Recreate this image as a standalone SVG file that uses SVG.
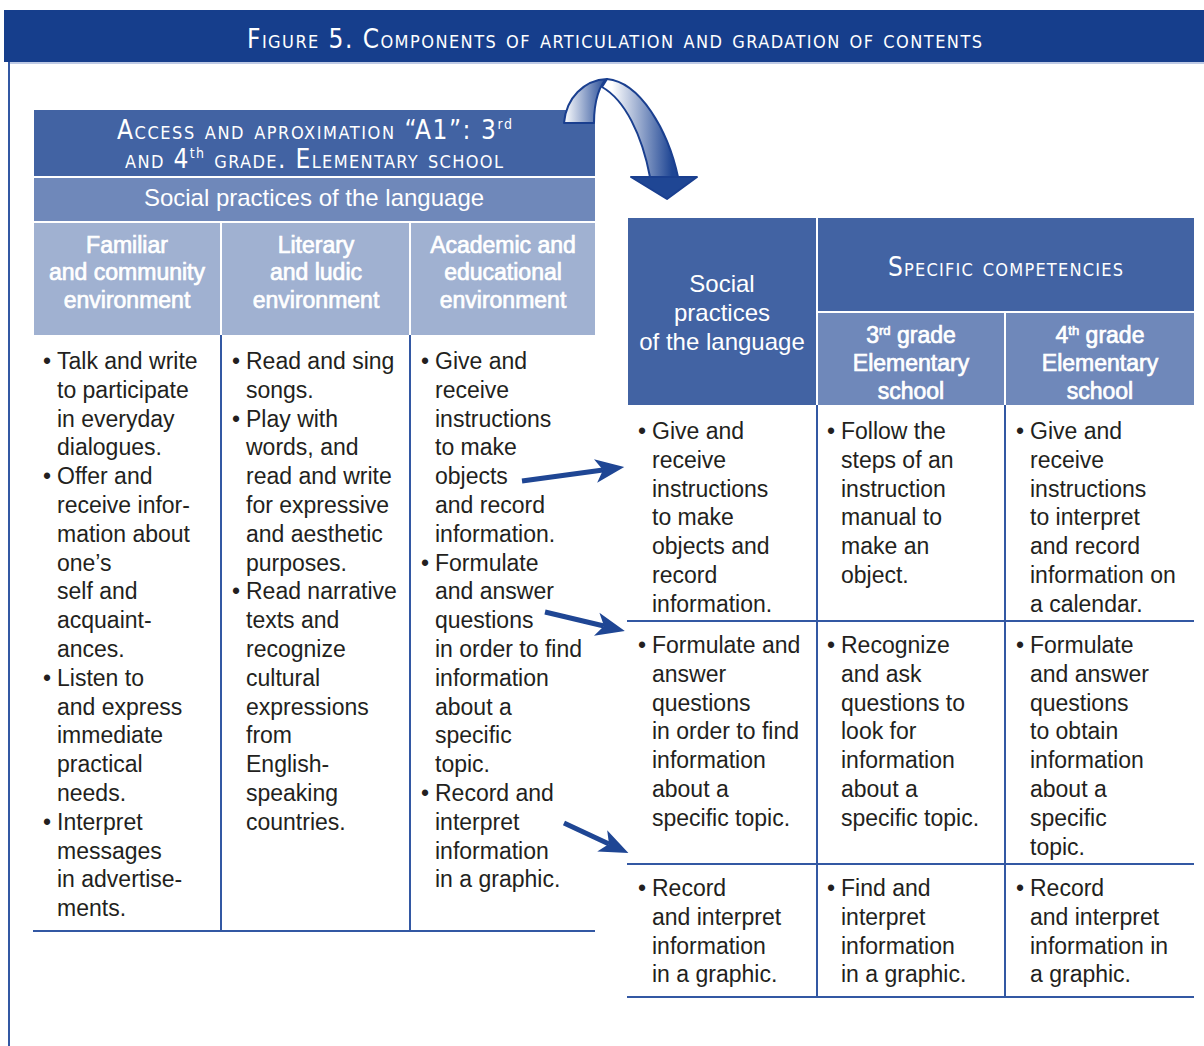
<svg xmlns="http://www.w3.org/2000/svg" width="1204" height="1046" viewBox="0 0 1204 1046">
<style>
.t{font-family:"Liberation Sans",Arial,sans-serif;font-size:23px;fill:#231f20}
.hw{font-family:"Liberation Sans",Arial,sans-serif;fill:#fff}
.hb{font-family:"Liberation Sans",Arial,sans-serif;fill:#fff;stroke:#fff;stroke-width:0.7;font-size:23px}
.sc{font-family:"DejaVu Sans Condensed","DejaVu Sans",sans-serif;font-stretch:condensed;font-variant:small-caps;fill:#fff;font-size:26px}
.sup{font-variant:normal;font-size:14px}
.ln{stroke:#3358a3;stroke-width:2;fill:none}
.wl{stroke:#fff;stroke-width:2}
.dark{fill:#4263a3}
.mid{fill:#6f88ba}
.light{fill:#a0b1d1}
.arr{stroke:#1f4694;stroke-width:5;fill:none;marker-end:url(#ah)}
</style>
<defs>
<marker id="ah" markerUnits="userSpaceOnUse" markerWidth="40" markerHeight="30" viewBox="-2 -14 34 28" refX="7" refY="0" orient="auto">
<path d="M0,-11 L27,0 L0,11 L7,0 Z" fill="#1f4694"/>
</marker>
<linearGradient id="g1" x1="0" y1="0" x2="1" y2="0">
<stop offset="0" stop-color="#ffffff"/><stop offset="1" stop-color="#1f4694"/>
</linearGradient>
<linearGradient id="g2" gradientUnits="userSpaceOnUse" x1="612" y1="0" x2="672" y2="0">
<stop offset="0" stop-color="#ffffff"/><stop offset="1" stop-color="#1f4694"/>
</linearGradient>
</defs>
<rect width="1204" height="1046" fill="#fff"/>

<g id="title">
<rect x="4" y="10" width="1200" height="52" fill="#163e8c"/>
<line x1="9" y1="63" x2="1204" y2="63" stroke="#a9b8dc" stroke-width="1.5"/>
<line x1="9" y1="62" x2="9" y2="1046" stroke="#3358a3" stroke-width="2"/>
<text class="sc" x="247" y="48" textLength="735" lengthAdjust="spacing">Figure 5. Components of articulation and gradation of contents</text>
</g>

<g id="left-header">
<rect class="dark" x="34" y="110" width="561" height="66"/>
<text class="sc" x="117" y="139" textLength="395" lengthAdjust="spacing">Access and aproximation “A1”: 3<tspan class="sup" dy="-10">rd</tspan></text>
<text class="sc" x="125" y="168" textLength="378" lengthAdjust="spacing">and 4<tspan class="sup" dy="-10">th</tspan><tspan dy="10"> grade. Elementary school</tspan></text>
<rect class="mid" x="34" y="178" width="561" height="43"/>
<text class="hw" x="314" y="206" font-size="24" text-anchor="middle">Social practices of the language</text>
</g>

<g id="left-col-headers">
<rect class="light" x="34" y="223" width="561" height="112"/>
<line class="wl" x1="221" y1="223" x2="221" y2="335"/>
<line class="wl" x1="410" y1="223" x2="410" y2="335"/>
<text class="hb" text-anchor="middle"><tspan x="127" y="253">Familiar</tspan><tspan x="127" y="280">and community</tspan><tspan x="127" y="308">environment</tspan></text>
<text class="hb" text-anchor="middle"><tspan x="316" y="253">Literary</tspan><tspan x="316" y="280">and ludic</tspan><tspan x="316" y="308">environment</tspan></text>
<text class="hb" text-anchor="middle"><tspan x="503" y="253">Academic and</tspan><tspan x="503" y="280">educational</tspan><tspan x="503" y="308">environment</tspan></text>
</g>

<g id="left-body">
<line class="ln" x1="221" y1="335" x2="221" y2="931"/>
<line class="ln" x1="410" y1="335" x2="410" y2="931"/>
<line class="ln" x1="33" y1="931" x2="595" y2="931"/>
</g>

<g id="left-col-1">
<text class="t"><tspan x="43" y="369">•</tspan><tspan x="57">Talk and write</tspan><tspan x="57" dy="28.8">to participate</tspan><tspan x="57" dy="28.8">in everyday</tspan><tspan x="57" dy="28.8">dialogues.</tspan><tspan x="43" dy="28.8">•</tspan><tspan x="57">Offer and</tspan><tspan x="57" dy="28.8">receive infor-</tspan><tspan x="57" dy="28.8">mation about</tspan><tspan x="57" dy="28.8">one’s</tspan><tspan x="57" dy="28.8">self and</tspan><tspan x="57" dy="28.8">acquaint-</tspan><tspan x="57" dy="28.8">ances.</tspan><tspan x="43" dy="28.8">•</tspan><tspan x="57">Listen to</tspan><tspan x="57" dy="28.8">and express</tspan><tspan x="57" dy="28.8">immediate</tspan><tspan x="57" dy="28.8">practical</tspan><tspan x="57" dy="28.8">needs.</tspan><tspan x="43" dy="28.8">•</tspan><tspan x="57">Interpret</tspan><tspan x="57" dy="28.8">messages</tspan><tspan x="57" dy="28.8">in advertise-</tspan><tspan x="57" dy="28.8">ments.</tspan></text>
</g>

<g id="left-col-2">
<text class="t"><tspan x="232" y="369">•</tspan><tspan x="246">Read and sing</tspan><tspan x="246" dy="28.8">songs.</tspan><tspan x="232" dy="28.8">•</tspan><tspan x="246">Play with</tspan><tspan x="246" dy="28.8">words, and</tspan><tspan x="246" dy="28.8">read and write</tspan><tspan x="246" dy="28.8">for expressive</tspan><tspan x="246" dy="28.8">and aesthetic</tspan><tspan x="246" dy="28.8">purposes.</tspan><tspan x="232" dy="28.8">•</tspan><tspan x="246">Read narrative</tspan><tspan x="246" dy="28.8">texts and</tspan><tspan x="246" dy="28.8">recognize</tspan><tspan x="246" dy="28.8">cultural</tspan><tspan x="246" dy="28.8">expressions</tspan><tspan x="246" dy="28.8">from</tspan><tspan x="246" dy="28.8">English-</tspan><tspan x="246" dy="28.8">speaking</tspan><tspan x="246" dy="28.8">countries.</tspan></text>
</g>

<g id="left-col-3">
<text class="t"><tspan x="421" y="369">•</tspan><tspan x="435">Give and</tspan><tspan x="435" dy="28.8">receive</tspan><tspan x="435" dy="28.8">instructions</tspan><tspan x="435" dy="28.8">to make</tspan><tspan x="435" dy="28.8">objects</tspan><tspan x="435" dy="28.8">and record</tspan><tspan x="435" dy="28.8">information.</tspan><tspan x="421" dy="28.8">•</tspan><tspan x="435">Formulate</tspan><tspan x="435" dy="28.8">and answer</tspan><tspan x="435" dy="28.8">questions</tspan><tspan x="435" dy="28.8">in order to find</tspan><tspan x="435" dy="28.8">information</tspan><tspan x="435" dy="28.8">about a</tspan><tspan x="435" dy="28.8">specific</tspan><tspan x="435" dy="28.8">topic.</tspan><tspan x="421" dy="28.8">•</tspan><tspan x="435">Record and</tspan><tspan x="435" dy="28.8">interpret</tspan><tspan x="435" dy="28.8">information</tspan><tspan x="435" dy="28.8">in a graphic.</tspan></text>
</g>

<g id="right-header">
<rect class="dark" x="628" y="218" width="188" height="187"/>
<text class="hw" font-size="24" text-anchor="middle"><tspan x="722" y="292">Social</tspan><tspan x="722" y="321">practices</tspan><tspan x="722" y="350">of the language</tspan></text>
<rect class="dark" x="818" y="218" width="376" height="93"/>
<text class="sc" x="888" y="276" textLength="235" lengthAdjust="spacing">Specific competencies</text>
<rect class="mid" x="818" y="313" width="186" height="92"/>
<text class="hb" text-anchor="middle"><tspan x="911" y="343">3<tspan font-size="13" dy="-8">rd</tspan><tspan dy="8"> grade</tspan></tspan><tspan x="911" y="371">Elementary</tspan><tspan x="911" y="399">school</tspan></text>
<rect class="mid" x="1006" y="313" width="188" height="92"/>
<text class="hb" text-anchor="middle"><tspan x="1100" y="343">4<tspan font-size="13" dy="-8">th</tspan><tspan dy="8"> grade</tspan></tspan><tspan x="1100" y="371">Elementary</tspan><tspan x="1100" y="399">school</tspan></text>
</g>

<g id="right-body">
<line class="ln" x1="817" y1="405" x2="817" y2="997"/>
<line class="ln" x1="1005" y1="405" x2="1005" y2="997"/>
<line class="ln" x1="627" y1="621" x2="1194" y2="621"/>
<line class="ln" x1="627" y1="864" x2="1194" y2="864"/>
<line class="ln" x1="627" y1="997" x2="1194" y2="997"/>
</g>

<g id="right-row-1">
<text class="t"><tspan x="638" y="439">•</tspan><tspan x="652">Give and</tspan><tspan x="652" dy="28.8">receive</tspan><tspan x="652" dy="28.8">instructions</tspan><tspan x="652" dy="28.8">to make</tspan><tspan x="652" dy="28.8">objects and</tspan><tspan x="652" dy="28.8">record</tspan><tspan x="652" dy="28.8">information.</tspan></text>
<text class="t"><tspan x="827" y="439">•</tspan><tspan x="841">Follow the</tspan><tspan x="841" dy="28.8">steps of an</tspan><tspan x="841" dy="28.8">instruction</tspan><tspan x="841" dy="28.8">manual to</tspan><tspan x="841" dy="28.8">make an</tspan><tspan x="841" dy="28.8">object.</tspan></text>
<text class="t"><tspan x="1016" y="439">•</tspan><tspan x="1030">Give and</tspan><tspan x="1030" dy="28.8">receive</tspan><tspan x="1030" dy="28.8">instructions</tspan><tspan x="1030" dy="28.8">to interpret</tspan><tspan x="1030" dy="28.8">and record</tspan><tspan x="1030" dy="28.8">information on</tspan><tspan x="1030" dy="28.8">a calendar.</tspan></text>
</g>

<g id="right-row-2">
<text class="t"><tspan x="638" y="653">•</tspan><tspan x="652">Formulate and</tspan><tspan x="652" dy="28.8">answer</tspan><tspan x="652" dy="28.8">questions</tspan><tspan x="652" dy="28.8">in order to find</tspan><tspan x="652" dy="28.8">information</tspan><tspan x="652" dy="28.8">about a</tspan><tspan x="652" dy="28.8">specific topic.</tspan></text>
<text class="t"><tspan x="827" y="653">•</tspan><tspan x="841">Recognize</tspan><tspan x="841" dy="28.8">and ask</tspan><tspan x="841" dy="28.8">questions to</tspan><tspan x="841" dy="28.8">look for</tspan><tspan x="841" dy="28.8">information</tspan><tspan x="841" dy="28.8">about a</tspan><tspan x="841" dy="28.8">specific topic.</tspan></text>
<text class="t"><tspan x="1016" y="653">•</tspan><tspan x="1030">Formulate</tspan><tspan x="1030" dy="28.8">and answer</tspan><tspan x="1030" dy="28.8">questions</tspan><tspan x="1030" dy="28.8">to obtain</tspan><tspan x="1030" dy="28.8">information</tspan><tspan x="1030" dy="28.8">about a</tspan><tspan x="1030" dy="28.8">specific</tspan><tspan x="1030" dy="28.8">topic.</tspan></text>
</g>

<g id="right-row-3">
<text class="t"><tspan x="638" y="896">•</tspan><tspan x="652">Record</tspan><tspan x="652" dy="28.8">and interpret</tspan><tspan x="652" dy="28.8">information</tspan><tspan x="652" dy="28.8">in a graphic.</tspan></text>
<text class="t"><tspan x="827" y="896">•</tspan><tspan x="841">Find and</tspan><tspan x="841" dy="28.8">interpret</tspan><tspan x="841" dy="28.8">information</tspan><tspan x="841" dy="28.8">in a graphic.</tspan></text>
<text class="t"><tspan x="1016" y="896">•</tspan><tspan x="1030">Record</tspan><tspan x="1030" dy="28.8">and interpret</tspan><tspan x="1030" dy="28.8">information in</tspan><tspan x="1030" dy="28.8">a graphic.</tspan></text>
</g>

<g id="connectors">
<g id="curved-arrow" stroke="#1a3f8f" stroke-width="2" stroke-linejoin="round">
<path d="M564,123 C566,98 584,80 607,79 C600,84 594,100 594,123 Z" fill="url(#g1)"/>
<path d="M607,79 C640,82 668,130 678,177 L650,177 C642,135 625,100 602,87 Z" fill="url(#g2)"/>
<path d="M650,177 L631,177 L667,199 L697,177 L678,177 Z" fill="#1f4694"/>
</g>
<line class="arr" x1="522" y1="481" x2="603" y2="470"/>
<line class="arr" x1="545" y1="612" x2="604" y2="626"/>
<line class="arr" x1="564" y1="823" x2="609" y2="844"/>
</g>
</svg>
